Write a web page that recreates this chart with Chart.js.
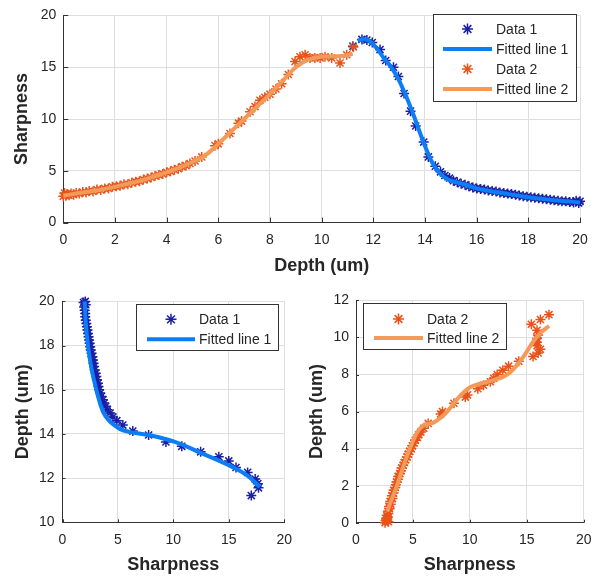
<!DOCTYPE html>
<html>
<head>
<meta charset="utf-8">
<script src="https://cdn.jsdelivr.net/npm/chart.js@4.4.1/dist/chart.umd.min.js"></script>
<style>
  html, body { margin: 0; padding: 0; background: #fff; }
  #wrap { position: relative; width: 602px; height: 579px; }
  canvas { position: absolute; }
</style>
</head>
<body>
<div id="wrap">
  <canvas id="topChart" width="602" height="285" style="left:0;top:0"></canvas>
  <canvas id="leftChart" width="301" height="294" style="left:0;top:285px"></canvas>
  <canvas id="rightChart" width="301" height="294" style="left:301px;top:285px"></canvas>
</div>
<script>
// measured samples: depth (um) and sharpness
const depth1 = [11.21, 11.56, 11.75, 11.96, 12.26, 12.48, 12.78, 12.97, 13.19, 13.44, 13.64, 13.95, 14.13, 14.40, 14.60, 14.77, 14.95,
  15.10, 15.25, 15.40, 15.55, 15.70, 15.85, 16.00, 16.15, 16.30, 16.45, 16.60, 16.75, 16.90, 17.05, 17.20, 17.35, 17.50, 17.65,
  17.80, 17.95, 18.10, 18.25, 18.40, 18.55, 18.70, 18.85, 19.00, 19.15, 19.30, 19.45, 19.60, 19.75, 19.85, 19.95, 20.00];
const sharp1 = [17.03, 17.68, 17.62, 17.38, 16.70, 15.65, 15.00, 14.10, 12.46, 10.76, 9.33, 7.77, 6.34, 5.44, 4.90, 4.55, 4.30,
  4.05, 3.90, 3.75, 3.65, 3.50, 3.40, 3.30, 3.25, 3.20, 3.10, 3.05, 3.00, 2.90, 2.85, 2.80, 2.75, 2.70, 2.62,
  2.55, 2.50, 2.45, 2.40, 2.35, 2.30, 2.25, 2.20, 2.15, 2.10, 2.05, 2.05, 2.00, 1.95, 2.10, 1.90, 2.05];

const depth2 = [0.00, 0.05, 0.10, 0.15, 0.22, 0.30, 0.40, 0.50, 0.62, 0.75, 0.88, 1.00, 1.15, 1.30, 1.45, 1.60, 1.75, 1.90,
  2.05, 2.20, 2.35, 2.50, 2.65, 2.80, 2.95, 3.10, 3.25, 3.40, 3.55, 3.70, 3.85, 4.00, 4.15, 4.30, 4.45, 4.60, 4.75, 4.90,
  5.10, 5.36, 5.87, 6.00, 6.45, 6.78, 6.90, 7.23, 7.42, 7.61, 7.80, 8.00, 8.23, 8.45, 8.71, 8.97, 9.16, 9.36, 9.55, 9.74,
  9.94, 10.13, 10.39, 10.71, 10.97, 11.23];
const sharp2 = [2.55, 2.85, 2.60, 2.75, 2.65, 2.80, 2.70, 2.85, 2.80, 2.95, 2.90, 3.05, 3.00, 3.20, 3.15, 3.30, 3.30, 3.45,
  3.50, 3.55, 3.70, 3.70, 3.85, 3.95, 4.00, 4.15, 4.25, 4.35, 4.50, 4.60, 4.70, 4.85, 4.95, 5.10, 5.20, 5.40, 5.50, 5.70,
  5.95, 6.34, 7.43, 7.60, 8.60, 9.60, 9.80, 10.70, 11.20, 11.80, 12.10, 12.40, 12.90, 13.40, 14.30, 15.55, 16.00, 16.20, 15.90, 15.90,
  15.90, 16.00, 15.90, 15.40, 16.20, 16.95];

// fitted curves, sharpness as a function of depth
const fit1Depth = [11.4, 11.6, 11.8, 12.0, 12.2, 12.4, 12.6, 12.8, 13.0, 13.2, 13.4, 13.6, 13.8, 14.0, 14.2, 14.4, 14.6, 14.8,
  15.0, 15.5, 16.0, 16.5, 17.0, 17.5, 18.0, 18.5, 19.0, 19.5, 20.0];
const fit1Sharp = [17.55, 17.7, 17.6, 17.2, 16.6, 15.9, 15.3, 14.6, 13.7, 12.6, 11.4, 10.1, 8.7, 7.4, 6.2, 5.3, 4.7, 4.3,
  4.05, 3.7, 3.3, 3.05, 2.85, 2.65, 2.45, 2.3, 2.15, 2.05, 1.95];
const fit2Depth = [0, 0.5, 1.0, 1.5, 2.0, 2.5, 3.0, 3.5, 4.0, 4.5, 5.0, 5.5, 6.0, 6.5, 7.0, 7.5, 8.0, 8.5, 9.0, 9.5, 10.0, 10.5, 11.0, 11.2];
const fit2Sharp = [2.6, 2.8, 3.0, 3.2, 3.45, 3.75, 4.05, 4.45, 4.85, 5.3, 5.85, 6.5, 7.6, 8.8, 10.0, 11.2, 12.4, 13.7, 15.0, 15.75, 16.0, 16.05, 16.15, 16.3];

// fitted curves, depth as a function of sharpness
const inv1Sharp = [2.00, 2.10, 2.30, 2.60, 3.05, 3.65, 4.20, 4.80, 5.20, 5.80, 6.50, 7.80, 10.2, 12.3, 14.7, 16.5, 17.8];
const inv1Depth = [20.0, 19.0, 18.0, 17.0, 16.0, 15.0, 14.6, 14.35, 14.22, 14.12, 14.05, 13.95, 13.63, 13.18, 12.65, 12.18, 11.6];
const inv2Sharp = [2.75, 3.00, 3.35, 3.65, 4.00, 4.45, 5.00, 5.50, 6.00, 6.80, 7.50, 8.00, 9.20, 10.05, 10.90, 12.10, 13.00, 13.60, 14.20, 14.80, 15.65, 16.30, 16.95];
const inv2Depth = [0.60, 1.05, 1.60, 2.10, 2.75, 3.55, 4.40, 5.00, 5.28, 5.40, 5.70, 6.00, 6.88, 7.33, 7.50, 7.70, 7.90, 8.15, 8.55, 9.05, 9.85, 10.30, 10.62];

const topXTicks = [0, 2, 4, 6, 8, 10, 12, 14, 16, 18, 20];
const topYTicks = [0, 5, 10, 15, 20];
const leftXTicks = [0, 5, 10, 15, 20];
const leftYTicks = [10, 12, 14, 16, 18, 20];
const rightXTicks = [0, 5, 10, 15, 20];
const rightYTicks = [0, 2, 4, 6, 8, 10, 12];

const names = ['Data 1', 'Fitted line 1', 'Data 2', 'Fitted line 2'];
const colors = ['#1b1fa3', '#0b7ef5', '#e9531a', '#f39a58'];

const TEXT = '#262626';
const AXIS = '#333333';
const GRID = '#dedede';
const FONT = 'Arial, "Liberation Sans", sans-serif';
Chart.defaults.font.family = FONT;

function pts(xs, ys) {
  return xs.map((v, i) => ({ x: v, y: ys[i] }));
}

function markers(label, color, data, order) {
  return { label, data, order, showLine: false, pointStyle: 'star', pointRadius: 5, pointHoverRadius: 5,
    borderColor: color, pointBorderWidth: 1.5, clip: false };
}

function curve(label, color, data, order) {
  return { label, data, order, showLine: true, pointRadius: 0, borderColor: color, borderWidth: 4,
    tension: 0.4, fill: false, clip: false };
}

function makeScale(o) {
  return {
    type: 'linear',
    min: o.min, max: o.max,
    afterBuildTicks: s => { s.ticks = o.ticks.map(v => ({ value: v })); },
    afterFit: s => { if (o.horizontal) s.height = o.size; else s.width = o.size; },
    grid: { color: GRID, drawTicks: false },
    border: { color: AXIS, width: 1 },
    ticks: { padding: o.tickPad, color: TEXT, font: { size: 14 }, autoSkip: false, maxRotation: 0 },
    title: { display: true, text: o.title, color: TEXT, font: { size: 18, weight: 'bold' }, padding: o.titlePad }
  };
}

// small tick marks pointing into the plot
const inwardTicks = {
  id: 'inwardTicks',
  afterDatasetsDraw(chart, args, opts) {
    const { ctx, chartArea: a, scales: { x, y } } = chart;
    const len = opts.len || 4;
    ctx.save();
    ctx.strokeStyle = AXIS;
    ctx.lineWidth = 1;
    ctx.beginPath();
    x.ticks.forEach(t => {
      const px = Math.round(x.getPixelForValue(t.value)) + 0.5;
      ctx.moveTo(px, a.bottom); ctx.lineTo(px, a.bottom - len);
    });
    y.ticks.forEach(t => {
      const py = Math.round(y.getPixelForValue(t.value)) + 0.5;
      ctx.moveTo(a.left, py); ctx.lineTo(a.left + len, py);
    });
    ctx.stroke();
    ctx.restore();
  }
};

function drawStar(ctx, x, y, r, color) {
  ctx.save();
  ctx.strokeStyle = color;
  ctx.lineWidth = 1.5;
  ctx.beginPath();
  for (let k = 0; k < 4; k++) {
    const a = k * Math.PI / 4;
    ctx.moveTo(x - r * Math.cos(a), y - r * Math.sin(a));
    ctx.lineTo(x + r * Math.cos(a), y + r * Math.sin(a));
  }
  ctx.stroke();
  ctx.restore();
}

// boxed legend drawn from the datasets
const boxLegend = {
  id: 'boxLegend',
  afterDraw(chart, args, o) {
    const ctx = chart.ctx;
    ctx.save();
    ctx.fillStyle = '#fff';
    ctx.fillRect(o.x0, o.y0, o.x1 - o.x0, o.y1 - o.y0);
    ctx.strokeStyle = AXIS;
    ctx.lineWidth = 1;
    ctx.strokeRect(o.x0 + 0.5, o.y0 + 0.5, o.x1 - o.x0, o.y1 - o.y0);
    ctx.font = '14px ' + FONT;
    ctx.textBaseline = 'middle';
    ctx.textAlign = 'left';
    chart.data.datasets.forEach((ds, i) => {
      const yy = o.y0 + o.firstRow + i * o.rowStep;
      if (ds.showLine) {
        ctx.strokeStyle = ds.borderColor;
        ctx.lineWidth = 4;
        ctx.beginPath();
        ctx.moveTo(o.lineX0, yy);
        ctx.lineTo(o.lineX1, yy);
        ctx.stroke();
      } else {
        drawStar(ctx, (o.lineX0 + o.lineX1) / 2, yy, 5.5, ds.borderColor);
      }
      ctx.fillStyle = TEXT;
      ctx.fillText(ds.label, o.textX, yy + 1);
    });
    ctx.restore();
  }
};

// sharpness vs depth, both sets
new Chart(document.getElementById('topChart'), {
  type: 'scatter',
  data: {
    datasets: [
      markers(names[0], colors[0], pts(depth1, sharp1), 4),
      curve(names[1], colors[1], pts(fit1Depth, fit1Sharp), 3),
      markers(names[2], colors[2], pts(depth2, sharp2), 2),
      curve(names[3], colors[3], pts(fit2Depth, fit2Sharp), 1)
    ]
  },
  options: {
    responsive: false,
    animation: false,
    devicePixelRatio: 1,
    layout: { padding: { top: 9.3, right: 22, left: 0, bottom: 0 } },
    scales: {
      x: makeScale({ min: 0, max: 20, ticks: topXTicks, horizontal: true, size: 62.4, tickPad: 9,
        title: 'Depth (um)', titlePad: { top: 0, bottom: 8 } }),
      y: makeScale({ min: 0, max: 20, ticks: topYTicks, size: 63.3, tickPad: 7,
        title: 'Sharpness', titlePad: { top: 11, bottom: 0 } })
    },
    plugins: {
      legend: { display: false },
      tooltip: { enabled: false },
      inwardTicks: { len: 5 },
      boxLegend: { x0: 433, y0: 14, x1: 576, y1: 101, firstRow: 15, rowStep: 20, lineX0: 443, lineX1: 492, textX: 496 }
    }
  },
  plugins: [inwardTicks, boxLegend]
});

// depth vs sharpness, set 1
new Chart(document.getElementById('leftChart'), {
  type: 'scatter',
  data: {
    datasets: [
      markers(names[0], colors[0], pts(sharp1, depth1), 2),
      curve(names[1], colors[1], pts(inv1Sharp, inv1Depth), 1)
    ]
  },
  options: {
    responsive: false,
    animation: false,
    devicePixelRatio: 1,
    layout: { padding: { top: 12.3, right: 15, left: 0, bottom: 0 } },
    scales: {
      x: makeScale({ min: 0, max: 20, ticks: leftXTicks, horizontal: true, size: 56.7, tickPad: 9,
        title: 'Sharpness', titlePad: { top: 0, bottom: 3 } }),
      y: makeScale({ min: 10, max: 20, ticks: leftYTicks, size: 62.5, tickPad: 8,
        title: 'Depth (um)', titlePad: { top: 12, bottom: 0 } })
    },
    plugins: {
      legend: { display: false },
      tooltip: { enabled: false },
      inwardTicks: { len: 3 },
      boxLegend: { x0: 136, y0: 19, x1: 278, y1: 65, firstRow: 15.3, rowStep: 20, lineX0: 147, lineX1: 195, textX: 199 }
    }
  },
  plugins: [inwardTicks, boxLegend]
});

// depth vs sharpness, set 2
new Chart(document.getElementById('rightChart'), {
  type: 'scatter',
  data: {
    datasets: [
      markers(names[2], colors[2], pts(sharp2, depth2), 2),
      curve(names[3], colors[3], pts(inv2Sharp, inv2Depth), 1)
    ]
  },
  options: {
    responsive: false,
    animation: false,
    devicePixelRatio: 1,
    layout: { padding: { top: 12.3, right: 18.3, left: 0, bottom: 0 } },
    scales: {
      x: makeScale({ min: 0, max: 20, ticks: rightXTicks, horizontal: true, size: 56.3, tickPad: 9,
        title: 'Sharpness', titlePad: { top: 0, bottom: 3 } }),
      y: makeScale({ min: 0, max: 12, ticks: rightYTicks, size: 55, tickPad: 7,
        title: 'Depth (um)', titlePad: { top: 5.5, bottom: 0 } })
    },
    plugins: {
      legend: { display: false },
      tooltip: { enabled: false },
      inwardTicks: { len: 3 },
      boxLegend: { x0: 62, y0: 18, x1: 205, y1: 64, firstRow: 16, rowStep: 19, lineX0: 73, lineX1: 122, textX: 126 }
    }
  },
  plugins: [inwardTicks, boxLegend]
});
</script>
</body>
</html>
